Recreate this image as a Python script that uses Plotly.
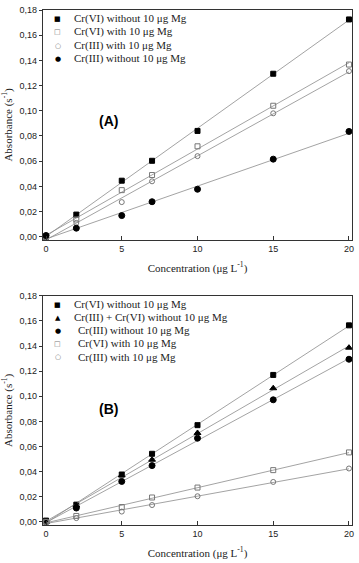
import numpy as np
import plotly.graph_objects as go
from plotly.subplots import make_subplots

# ---------------- data ----------------
conc = [0, 2, 5, 7, 10, 15, 20]

a_names = ["Cr(VI) without 10 μg Mg", "Cr(VI) with 10 μg Mg",
           "Cr(III) with 10 μg Mg", "Cr(III) without 10 μg Mg"]
a_cr6_without = [0.000, 0.0176, 0.0445, 0.0603, 0.0840, 0.1294, 0.1725]
a_cr6_with = [0.000, 0.0137, 0.0370, 0.0490, 0.0718, 0.1040, 0.1367]
a_cr3_with = [0.000, 0.0110, 0.0275, 0.0440, 0.0640, 0.0980, 0.1315]
a_cr3_without = [0.001, 0.0068, 0.0168, 0.0278, 0.0377, 0.0616, 0.0836]

b_names = ["Cr(VI) without 10 μg Mg", "Cr(III) + Cr(VI) without 10 μg Mg",
           "Cr(III) without 10 μg Mg", "Cr(VI) with 10 μg Mg",
           "Cr(III) with 10 μg Mg"]
b_cr6_without = [0.001, 0.0137, 0.0377, 0.0542, 0.0770, 0.1170, 0.1565]
b_mix_without = [0.000, 0.0130, 0.0370, 0.0495, 0.0708, 0.1064, 0.1387]
b_cr3_without = [0.000, 0.0110, 0.0322, 0.0448, 0.0666, 0.0972, 0.1295]
b_cr6_with = [0.000, 0.0047, 0.0118, 0.0194, 0.0273, 0.0412, 0.0553]
b_cr3_with = [0.000, 0.0030, 0.0082, 0.0134, 0.0204, 0.0318, 0.0425]

y_ticks = [0, 0.02, 0.04, 0.06, 0.08, 0.10, 0.12, 0.14, 0.16, 0.18]
x_ticks = [0, 5, 10, 15, 20]
panel_labels = ["(A)", "(B)"]

# ---------------- styles ----------------
STY = {
    "sq": dict(symbol="square", color="black", size=5, glyph="■", gsize=7, gcol="black"),
    "sqo": dict(symbol="square-open", color="#777777", size=5, glyph="□", gsize=7, gcol="#777777"),
    "cio": dict(symbol="circle-open", color="#777777", size=5, glyph="○", gsize=7, gcol="#777777"),
    "ci": dict(symbol="circle", color="black", size=6, glyph="●", gsize=7, gcol="black"),
    "tri": dict(symbol="triangle-up", color="black", size=6, glyph="▲", gsize=7, gcol="black"),
}

panel_a = [(a_names[0], a_cr6_without, "sq"), (a_names[1], a_cr6_with, "sqo"),
           (a_names[2], a_cr3_with, "cio"), (a_names[3], a_cr3_without, "ci")]
panel_b = [(b_names[0], b_cr6_without, "sq"), (b_names[1], b_mix_without, "tri"),
           (b_names[2], b_cr3_without, "ci"), (b_names[3], b_cr6_with, "sqo"),
           (b_names[4], b_cr3_with, "cio")]

fig = make_subplots(rows=2, cols=1, vertical_spacing=0.1)

serif = "Liberation Serif, Times New Roman, serif"
sans = "Liberation Sans, Arial, sans-serif"

leg_rows_a = [0.963, 0.906, 0.845, 0.787]
leg_rows_b = [0.960, 0.905, 0.848, 0.790, 0.733]
txt_x_a = [0.0935, 0.0935, 0.0935, 0.0935]
txt_x_b = [0.0935, 0.0935, 0.106, 0.106, 0.106]

xs = np.array(conc, dtype=float)
for row, series, rows_y, txt_x in [(1, panel_a, leg_rows_a, txt_x_a),
                                  (2, panel_b, leg_rows_b, txt_x_b)]:
    yref = "y domain" if row == 1 else "y2 domain"
    xref = "x domain" if row == 1 else "x2 domain"
    for (name, vals, key), ly, tx in zip(series, rows_y, txt_x):
        s = STY[key]
        k, c = np.polyfit(xs, np.array(vals), 1)
        fit_x = [min(conc), max(conc)]
        fig.add_trace(go.Scatter(x=fit_x, y=[c + k * v for v in fit_x], mode="lines",
                                 line=dict(color="#8c8c8c", width=0.8),
                                 showlegend=False, hoverinfo="skip"), row=row, col=1)
        fig.add_trace(go.Scatter(x=conc, y=vals, mode="markers", name=name,
                                 marker=dict(symbol=s["symbol"], color=s["color"], size=s["size"],
                                             line=dict(color=s["color"], width=1)),
                                 cliponaxis=False, showlegend=False), row=row, col=1)
        fig.add_annotation(xref=xref, yref=yref, x=0.048, y=ly, text=s["glyph"],
                           showarrow=False, xanchor="center", yanchor="middle",
                           font=dict(family="DejaVu Sans", size=s["gsize"], color=s["gcol"]))
        fig.add_annotation(xref=xref, yref=yref, x=tx, y=ly, text=name,
                           showarrow=False, xanchor="left", yanchor="middle",
                           font=dict(family=serif, size=11, color="#222222"))
    fig.add_annotation(xref="x" if row == 1 else "x2", yref="y" if row == 1 else "y2",
                       x=4.1, y=0.0915 if row == 1 else 0.090, text="<b>%s</b>" % panel_labels[row - 1],
                       showarrow=False, font=dict(family=sans, size=14, color="black"))

axis_common = dict(showline=True, mirror=True, linecolor="#333333", linewidth=1.1,
                   showgrid=False, zeroline=False)
for r in (1, 2):
    fig.update_xaxes(range=[-0.2, 20.2], tickvals=x_ticks, ticks="inside", ticklen=4,
                     tickcolor="#333333", tickfont=dict(family=sans, size=9, color="#222222"),
                     title=dict(text="Concentration (μg L<sup>-1</sup>)",
                                font=dict(family=serif, size=11, color="#222222"), standoff=11),
                     row=r, col=1, **axis_common)
    fig.update_yaxes(range=[-0.0025, 0.18], tickvals=y_ticks, tickformat=".2f",
                     ticks="outside", ticklen=3, tickcolor="#333333",
                     tickfont=dict(family=sans, size=9, color="#222222"),
                     title=dict(text="Absorbance (s<sup>-1</sup>)",
                                font=dict(family=serif, size=11, color="#222222"), standoff=7),
                     row=r, col=1, **axis_common)

fig.update_layout(width=359, height=563, margin=dict(l=43, r=5, t=6, b=35),
                  plot_bgcolor="white", paper_bgcolor="white", separators=",.",
                  xaxis=dict(domain=[0, 1]), xaxis2=dict(domain=[0, 1]),
                  yaxis=dict(domain=[0.5536, 1.0]), yaxis2=dict(domain=[0.0, 0.445]))

fig.write_html("out.html", config={"displayModeBar": False},
               post_script="document.body.style.margin='0';document.body.style.overflow='hidden';")
